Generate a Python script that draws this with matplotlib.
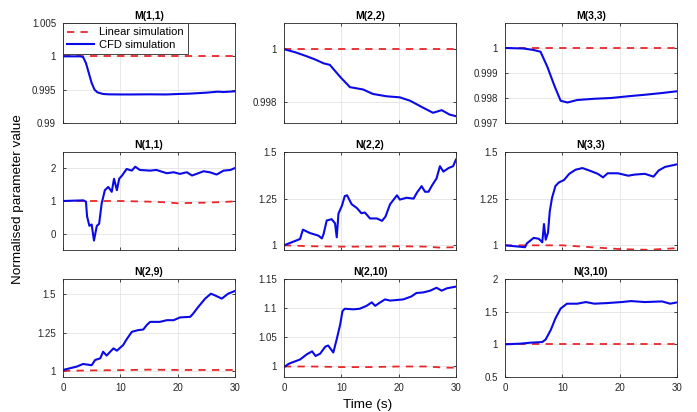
import matplotlib
matplotlib.use("Agg")
import matplotlib.pyplot as plt
import numpy as np

plt.rcParams['font.family'] = ['Liberation Sans', 'DejaVu Sans']

# ---------------- data ----------------
# M(1,1)
t_m11 = [0, 1, 2, 3, 3.5, 4, 4.5, 5, 5.5, 6, 7, 8, 10, 12, 15, 18, 20, 22, 25, 27, 28, 30]
cfd_m11 = [1, 1, 1, 1, 0.9999, 0.9990, 0.9975, 0.9960, 0.9950, 0.9946, 0.99435, 0.99430,
           0.99428, 0.99428, 0.9943, 0.99428, 0.99435, 0.9944, 0.99455, 0.9947, 0.99465, 0.99475]
t_lin_m11 = [0, 30]
lin_m11 = [1, 1]

# M(2,2)
t_m22 = [0, 2, 3.95, 5.5, 6.9, 8.0, 9.8, 11.5, 13.8, 15.5, 17.9, 20.2, 22, 24.3, 26, 27.5, 28.9, 30]
cfd_m22 = [1.0, 0.99988, 0.99973, 0.99960, 0.99946, 0.9994, 0.99894, 0.99855, 0.99846, 0.99829,
           0.9982, 0.99816, 0.99803, 0.99776, 0.99757, 0.99767, 0.9975, 0.99744]
t_lin_m22 = [0, 30]
lin_m22 = [1, 1]

# M(3,3)
t_m33 = [0, 3.2, 5, 6.2, 7.4, 8.6, 9.7, 10.9, 12.6, 15.6, 18.5, 21.5, 24.4, 27.4, 30]
cfd_m33 = [1.0, 0.99998, 0.99992, 0.99985, 0.99924, 0.9985, 0.99789, 0.99782, 0.99792, 0.99797,
           0.998, 0.99807, 0.99813, 0.9982, 0.99827]
t_lin_m33 = [0, 30]
lin_m33 = [1, 1]

# N(1,1)
t_n11 = [0, 3.55, 4.0, 4.2, 4.6, 5.0, 5.4, 5.9, 6.3, 6.75, 7.3, 7.9, 8.5, 8.9, 9.4, 9.8, 10.3,
         11.1, 12, 12.6, 13.4, 15.2, 16.3, 18.1, 19.3, 20.4, 21.6, 22.5, 23.3, 24.5, 25.6, 26.8,
         28, 29.2, 30]
cfd_n11 = [1.0, 1.02, 0.98, 0.53, 0.24, 0.28, -0.21, 0.24, 0.3, 0.93, 1.33, 1.43, 1.28, 1.68,
           1.33, 1.68, 1.78, 1.98, 1.93, 2.05, 1.95, 1.93, 1.95, 1.85, 1.88, 1.83, 1.88, 1.78,
           1.83, 1.91, 1.88, 1.81, 1.93, 1.95, 2.01]
t_lin_n11 = [0, 5, 10, 15, 18, 20, 22, 25, 28, 30]
lin_n11 = [1.0, 1.0, 1.0, 0.98, 0.96, 0.93, 0.94, 0.95, 0.97, 0.99]

# N(2,2)
t_n22 = [0, 2.8, 3.3, 4.5, 6.0, 6.6, 6.9, 7.45, 8.3, 8.9, 9.2, 9.5, 10.1, 10.6, 11.0, 11.8, 12.7,
         13.5, 14.1, 15.0, 16.2, 17.1, 17.7, 18.5, 19.7, 20.2, 21.4, 22.6, 23.2, 24.0, 24.6,
         25.2, 25.8, 26.6, 27.2, 27.8, 28.7, 29.5, 30]
cfd_n22 = [1.0, 1.034, 1.084, 1.066, 1.052, 1.037, 1.06, 1.133, 1.14, 1.118, 1.043, 1.17, 1.212,
           1.264, 1.268, 1.22, 1.20, 1.172, 1.176, 1.144, 1.144, 1.131, 1.154, 1.22, 1.268, 1.245,
           1.255, 1.25, 1.283, 1.317, 1.287, 1.287, 1.32, 1.358, 1.424, 1.395, 1.414, 1.424, 1.46]
t_lin_n22 = [0, 5, 10, 15, 20, 25, 27, 30]
lin_n22 = [1.0, 0.995, 0.993, 0.993, 0.995, 0.993, 0.988, 0.99]

# N(3,3)
t_n33 = [0, 3.5, 3.8, 5.0, 5.9, 6.5, 6.8, 7.1, 7.5, 7.8, 8.2, 8.8, 9.4, 10.3, 11.2, 12.3, 13.5,
         14.7, 16.2, 17.1, 17.9, 19.7, 21.5, 22.6, 24.4, 25.9, 26.8, 27.9, 30]
cfd_n33 = [1.0, 0.99, 1.01, 1.04, 1.035, 1.016, 1.114, 1.03, 1.068, 1.18, 1.254, 1.318, 1.337,
           1.35, 1.383, 1.405, 1.414, 1.401, 1.383, 1.364, 1.386, 1.386, 1.373, 1.379, 1.383,
           1.368, 1.401, 1.42, 1.434]
t_lin_n33 = [0, 5, 10, 15, 20, 25, 30]
lin_n33 = [1.0, 1.0, 1.0, 0.99, 0.98, 0.976, 0.985]

# N(2,9)
t_n29 = [0, 2.4, 3.5, 5.0, 5.6, 6.5, 7.0, 7.6, 8.8, 9.4, 10.5, 11.1, 12.0, 13.1, 14, 14.6, 15.2,
         16.9, 18.1, 19.3, 20.4, 22.2, 22.7, 23.6, 24.8, 25.8, 26.5, 27.7, 28.8, 30]
cfd_n29 = [1.006, 1.028, 1.045, 1.037, 1.071, 1.082, 1.125, 1.1, 1.147, 1.132, 1.169, 1.206,
           1.255, 1.266, 1.27, 1.299, 1.32, 1.32, 1.331, 1.331, 1.349, 1.353, 1.374, 1.418,
           1.472, 1.504, 1.493, 1.472, 1.504, 1.522]
t_lin_n29 = [0, 5, 10, 15, 20, 25, 30]
lin_n29 = [1.0, 1.003, 1.005, 1.008, 1.006, 1.006, 1.006]

# N(2,10)
t_n210 = [0, 0.9, 2.8, 4.0, 4.9, 5.5, 6.3, 7.2, 7.7, 8.6, 9.2, 9.8, 10.2, 10.6, 12.1, 13.2, 14.4,
          15.3, 15.9, 16.8, 17.6, 18.5, 19.7, 20.8, 22.2, 23.1, 24.3, 25.5, 26.6, 27.5, 28.4, 30]
cfd_n210 = [0.999, 1.005, 1.012, 1.021, 1.026, 1.018, 1.022, 1.034, 1.036, 1.024, 1.047, 1.072,
            1.095, 1.099, 1.098, 1.099, 1.104, 1.110, 1.104, 1.110, 1.115, 1.113, 1.114, 1.115,
            1.120, 1.126, 1.127, 1.130, 1.135, 1.130, 1.134, 1.137]
t_lin_n210 = [0, 5, 10, 15, 20, 25, 28, 30]
lin_n210 = [1.0, 1.0, 0.999, 0.999, 1.0, 1.0, 0.998, 0.998]

# N(3,10)
t_n310 = [0, 2.6, 4.4, 6.5, 7.1, 8.0, 8.8, 9.7, 10.8, 12.6, 14.1, 15.6, 17.9, 20.3, 22.0, 24.4,
          27.4, 28.8, 30]
cfd_n310 = [1.0, 1.01, 1.025, 1.035, 1.075, 1.224, 1.398, 1.547, 1.622, 1.622, 1.647, 1.622,
            1.632, 1.647, 1.662, 1.647, 1.657, 1.622, 1.642]
t_lin_n310 = [0, 30]
lin_n310 = [1, 1]

titles = ['M(1,1)', 'M(2,2)', 'M(3,3)', 'N(1,1)', 'N(2,2)', 'N(3,3)', 'N(2,9)', 'N(2,10)', 'N(3,10)']
panels = [
    (t_lin_m11, lin_m11, t_m11, cfd_m11, (0.99, 1.005), [0.99, 0.995, 1, 1.005], ['0.99', '0.995', '1', '1.005']),
    (t_lin_m22, lin_m22, t_m22, cfd_m22, (0.99718, 1.001), [0.998, 1], ['0.998', '1']),
    (t_lin_m33, lin_m33, t_m33, cfd_m33, (0.997, 1.001), [0.997, 0.998, 0.999, 1], ['0.997', '0.998', '0.999', '1']),
    (t_lin_n11, lin_n11, t_n11, cfd_n11, (-0.5, 2.5), [0, 1, 2], ['0', '1', '2']),
    (t_lin_n22, lin_n22, t_n22, cfd_n22, (0.975, 1.5), [1, 1.25, 1.5], ['1', '1.25', '1.5']),
    (t_lin_n33, lin_n33, t_n33, cfd_n33, (0.975, 1.5), [1, 1.25, 1.5], ['1', '1.25', '1.5']),
    (t_lin_n29, lin_n29, t_n29, cfd_n29, (0.96, 1.6), [1, 1.25, 1.5], ['1', '1.25', '1.5']),
    (t_lin_n210, lin_n210, t_n210, cfd_n210, (0.982, 1.15), [1, 1.05, 1.1, 1.15], ['1', '1.05', '1.1', '1.15']),
    (t_lin_n310, lin_n310, t_n310, cfd_n310, (0.5, 2.0), [0.5, 1, 1.5, 2], ['0.5', '1', '1.5', '2']),
]
xticks = [0, 10, 20, 30]

# ---------------- figure ----------------
W, H = 697, 412
fig = plt.figure(figsize=(W / 100, H / 100), dpi=100)

lefts = [63, 284, 505]
tops = [23, 152, 279]
heights = [100, 98, 98]
width = 172

blue = '#0a0ae6'
red = '#e8262a'

for i, (tl, yl, tc, yc, ylim, yt, ytl) in enumerate(panels):
    r, c = divmod(i, 3)
    x0 = lefts[c] / W
    y0 = 1 - (tops[r] + heights[r]) / H
    ax = fig.add_axes([x0, y0, width / W, heights[r] / H])
    ax.plot(tl, yl, '--', color=red, lw=1.3, dashes=(4, 3.5), label='Linear simulation')
    ax.plot(tc, yc, '-', color=blue, lw=1.5, label='CFD simulation')
    ax.set_xlim(0, 30)
    ax.set_ylim(*ylim)
    ax.set_xticks(xticks)
    ax.set_yticks(yt)
    ax.set_yticklabels(ytl)
    if r < 2:
        ax.set_xticklabels([])
    ax.grid(True, color='#e4e4e4', lw=0.6)
    ax.set_axisbelow(True)
    ax.tick_params(direction='in', length=2.5, width=0.6, labelsize=7, colors='#262626',
                   top=True, right=True)
    ax.tick_params(axis='y', pad=5)
    ax.tick_params(axis='x', pad=4.5)
    for s in ax.spines.values():
        s.set_linewidth(0.6)
        s.set_color('#262626')
    ax.set_title(titles[i], fontsize=7.5, fontweight='bold', pad=3)
    if i == 0:
        leg = ax.legend(loc='upper left', fontsize=8, fancybox=False, framealpha=1,
                        edgecolor='#262626', borderpad=0.4, handlelength=2.4,
                        handletextpad=0.4, labelspacing=0.2, borderaxespad=0)
        leg.get_frame().set_linewidth(0.6)

fig.text(18 / W, 1 - 199 / H, 'Normalised parameter value', rotation=90, fontsize=9.7,
         ha='center', va='center')
fig.text(368 / W, 1 - 405 / H, 'Time (s)', fontsize=9.7, ha='center', va='center')

fig.savefig('out.png', dpi=100)
